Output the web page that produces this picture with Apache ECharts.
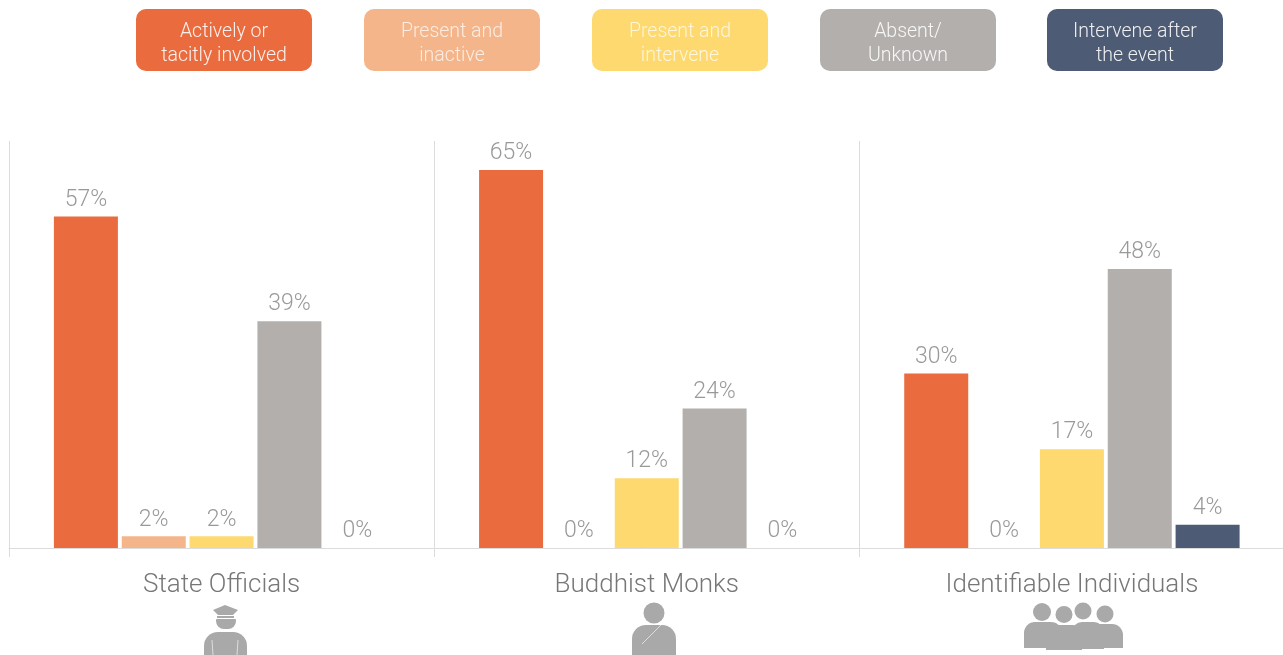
<!DOCTYPE html>
<html lang="en">
<head>
  <meta charset="UTF-8">
  <style>
    html, body { margin: 0; padding: 0; background: #fff; }
    #container { width: 1283px; height: 655px; }
  </style>
  <script src="https://cdn.jsdelivr.net/npm/echarts@6/dist/echarts.min.js"></script>
</head>
<body>
  <div id="container"></div>
  <script>
    var categories = ['State Officials', 'Buddhist Monks', 'Identifiable Individuals'];
    var seriesNames = ['Actively or\ntacitly involved', 'Present and\ninactive', 'Present and\nintervene', 'Absent/\nUnknown', 'Intervene after\nthe event'];
    var seriesColors = ['#ea6b3d', '#f4b58a', '#fdd96f', '#b3afad', '#4d5c74'];
    var involved = [57, 65, 30];
    var inactive = [2, 0, 0];
    var intervene = [2, 12, 17];
    var absent = [39, 24, 48];
    var after = [0, 0, 4];
    var seriesValues = [involved, inactive, intervene, absent, after];
    var legendLeft = [136, 364, 592, 820, 1047];

    var FONT = 'Roboto';
    var ICON = '#a9a9a9';
    var myChart = echarts.init(document.getElementById('container'));

    // legend boxes sit above the plot as rounded buttons
    var graphic = legendLeft.map(function (x, i) {
      return {
        type: 'group',
        x: x,
        y: 9,
        children: [
          { type: 'rect', shape: { x: 0, y: 0, width: 176, height: 62, r: 10 }, style: { fill: seriesColors[i] } },
          {
            type: 'text',
            x: 88,
            y: 35,
            style: {
              text: seriesNames[i],
              fill: i == 1 || i == 2 ? 'rgba(255,255,255,0.75)' : 'rgba(255,255,255,0.9)',
              font: '300 19.5px ' + FONT,
              lineHeight: 24,
              align: 'center',
              verticalAlign: 'middle'
            }
          }
        ]
      };
    });

    function circle(cx, cy, r, fill) {
      return { type: 'circle', shape: { cx: cx, cy: cy, r: r }, style: { fill: fill || ICON } };
    }
    function body(x, y, w, h, r) {
      return { type: 'rect', shape: { x: x, y: y, width: w, height: h, r: [r, r, 0, 0] }, style: { fill: ICON } };
    }
    function line(x1, y1, x2, y2) {
      return { type: 'line', shape: { x1: x1, y1: y1, x2: x2, y2: y2 }, style: { stroke: '#ddd', lineWidth: 1 } };
    }

    // officer
    graphic.push(
      body(204, 632, 43, 30, 14),
      { type: 'polygon', shape: { points: [[213, 610], [225, 605], [238, 610], [233, 615], [218, 615]] }, style: { fill: ICON } },
      { type: 'rect', shape: { x: 217, y: 616, width: 17, height: 2 }, style: { fill: ICON } },
      { type: 'rect', shape: { x: 216, y: 619, width: 20, height: 10, r: [1, 1, 8, 8] }, style: { fill: ICON } },
      line(212, 640, 213, 655),
      line(238, 640, 237, 655)
    );
    // monk
    graphic.push(
      circle(654, 613, 10.5),
      body(632, 625, 44, 30, 14),
      line(661, 625, 642, 644)
    );
    // group of people
    graphic.push(
      circle(1042, 612, 9),
      circle(1064, 614.5, 8.5),
      circle(1083, 611, 8.5),
      circle(1105, 614, 8.5),
      body(1024, 622, 38, 26, 11),
      body(1046, 625, 36, 25, 9),
      body(1072, 622, 32, 27, 10),
      body(1090, 624, 33, 24, 11)
    );

    var option = {
      backgroundColor: '#fff',
      animation: false,
      // right edge runs just past the canvas, the last tick is cut off in the original too
      grid: { left: 9, right: -1.5, top: 141, bottom: 107, outerBoundsMode: 'none', containLabel: false },
      xAxis: {
        type: 'category',
        data: categories,
        axisLine: { lineStyle: { color: '#dcdcdc', width: 1 } },
        axisTick: { show: true, length: 9, lineStyle: { color: '#dcdcdc' } },
        splitLine: { show: true, lineStyle: { color: '#dcdcdc', width: 1 } },
        axisLabel: { color: '#777', fontFamily: FONT, fontWeight: 300, fontSize: 26, margin: 24 }
      },
      yAxis: { type: 'value', min: 0, max: 70, show: false },
      series: seriesValues.map(function (vals, i) {
        return {
          type: 'bar',
          name: seriesNames[i],
          data: vals,
          barWidth: 64,
          barGap: '6%',
          itemStyle: { color: seriesColors[i] },
          label: {
            show: true,
            position: 'top',
            distance: 5,
            formatter: '{c}%',
            color: '#999',
            fontFamily: FONT,
            fontWeight: 300,
            fontSize: 23
          }
        };
      }),
      graphic: graphic
    };
    myChart.setOption(option);
  </script>
</body>
</html>
